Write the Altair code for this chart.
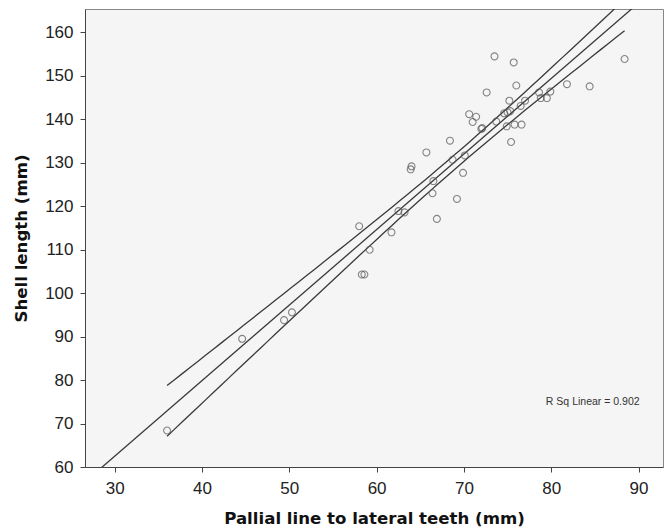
import altair as alt
import numpy as np
import pandas as pd

# Data
pallial = [36.0, 44.6, 49.4, 50.3, 58.0, 58.3, 58.6, 59.2, 61.7, 62.5,
           63.2, 63.9, 64.0, 65.7, 66.4, 66.5, 66.9, 68.4, 68.7, 69.2,
           69.9, 70.1, 70.6, 71.0, 71.4, 72.0, 72.1, 72.6, 73.5, 73.7,
           74.6, 75.0, 75.3, 74.9, 75.2, 75.4, 75.7, 75.8, 76.0, 76.5,
           76.6, 77.0, 78.6, 78.8, 79.5, 79.9, 81.8, 84.4, 88.4]
shell = [68.4, 89.5, 93.8, 95.6, 115.4, 104.3, 104.3, 110.0, 114.0, 118.9,
         118.6, 128.5, 129.2, 132.4, 123.0, 125.8, 117.1, 135.1, 130.7, 121.7,
         127.7, 131.7, 141.2, 139.4, 140.6, 137.8, 138.0, 146.2, 154.5, 139.5,
         141.4, 141.6, 141.9, 138.4, 144.3, 134.8, 153.1, 138.8, 147.8, 143.1,
         138.8, 144.3, 146.2, 144.9, 144.9, 146.4, 148.1, 147.6, 153.9]

x_ticks = [30, 40, 50, 60, 70, 80, 90]
y_ticks = [60, 70, 80, 90, 100, 110, 120, 130, 140, 150, 160]
x_domain = [26.6, 92.8]
y_domain = [60, 165.4]
r2_label = "R Sq Linear = 0.902"

# Linear fit and 95% confidence interval for the mean, computed from the data
x = np.array(pallial)
y = np.array(shell)
n = len(x)
b, a = np.polyfit(x, y, 1)
resid = y - (a + b * x)
s = np.sqrt(np.sum(resid ** 2) / (n - 2))
sxx = np.sum((x - x.mean()) ** 2)
t_crit = 2.0117  # t(0.975, df=47)

fit_x = np.array(x_domain)
fit_df = pd.DataFrame({"x": fit_x, "y": a + b * fit_x})

ci_x = np.linspace(x.min(), x.max(), 60)
ci_fit = a + b * ci_x
ci_se = s * np.sqrt(1.0 / n + (ci_x - x.mean()) ** 2 / sxx)
ci_df = pd.concat([
    pd.DataFrame({"x": ci_x, "y": ci_fit + t_crit * ci_se, "band": "upper"}),
    pd.DataFrame({"x": ci_x, "y": ci_fit - t_crit * ci_se, "band": "lower"}),
])

pts = pd.DataFrame({"x": pallial, "y": shell})
lab = pd.DataFrame({"x": [84.75], "y": [75.0], "t": [r2_label]})

xs = alt.Scale(domain=x_domain, nice=False, zero=False)
ys = alt.Scale(domain=y_domain, nice=False, zero=False)

x_axis = alt.Axis(values=x_ticks, title="Pallial line to lateral teeth (mm)", grid=False,
                  labelFontSize=17, labelFont="Liberation Sans", labelColor="#222",
                  labelPadding=8, tickSize=5, tickColor="#444", domainColor="#444",
                  titleFont="DejaVu Sans", titleFontSize=16.6, titleFontWeight="bold",
                  titleColor="#111", titlePadding=14)
y_axis = alt.Axis(values=y_ticks, title="Shell length (mm)", grid=False,
                  labelFontSize=17, labelFont="Liberation Sans", labelColor="#222",
                  labelPadding=7, tickSize=5, tickColor="#444", domainColor="#444",
                  titleFont="DejaVu Sans", titleFontSize=16.6, titleFontWeight="bold",
                  titleColor="#111", titlePadding=15)

points = alt.Chart(pts).mark_point(
    shape="circle", filled=False, color="#555", strokeWidth=1.1, size=48, clip=True
).encode(
    x=alt.X("x:Q", scale=xs, axis=x_axis),
    y=alt.Y("y:Q", scale=ys, axis=y_axis),
)

fit_line = alt.Chart(fit_df).mark_line(color="#3a3a3a", strokeWidth=1.3, clip=True).encode(
    x=alt.X("x:Q", scale=xs), y=alt.Y("y:Q", scale=ys)
)

ci_lines = alt.Chart(ci_df).mark_line(color="#3a3a3a", strokeWidth=1.3, clip=True).encode(
    x=alt.X("x:Q", scale=xs), y=alt.Y("y:Q", scale=ys), detail="band:N"
)

text = alt.Chart(lab).mark_text(
    font="Liberation Sans", fontSize=10.5, color="#333", align="center", baseline="middle"
).encode(x=alt.X("x:Q", scale=xs), y=alt.Y("y:Q", scale=ys), text="t:N")

chart = alt.layer(ci_lines, fit_line, points, text).properties(
    width=578, height=458,
    autosize=alt.AutoSizeParams(type="none"),
    padding={"left": 85, "top": 9, "right": 2, "bottom": 65},
    background="white",
).configure_view(fill="#F5F5F5", stroke="#888", strokeWidth=1)

chart.save("out.html", embed_options={"renderer": "svg", "actions": False})
